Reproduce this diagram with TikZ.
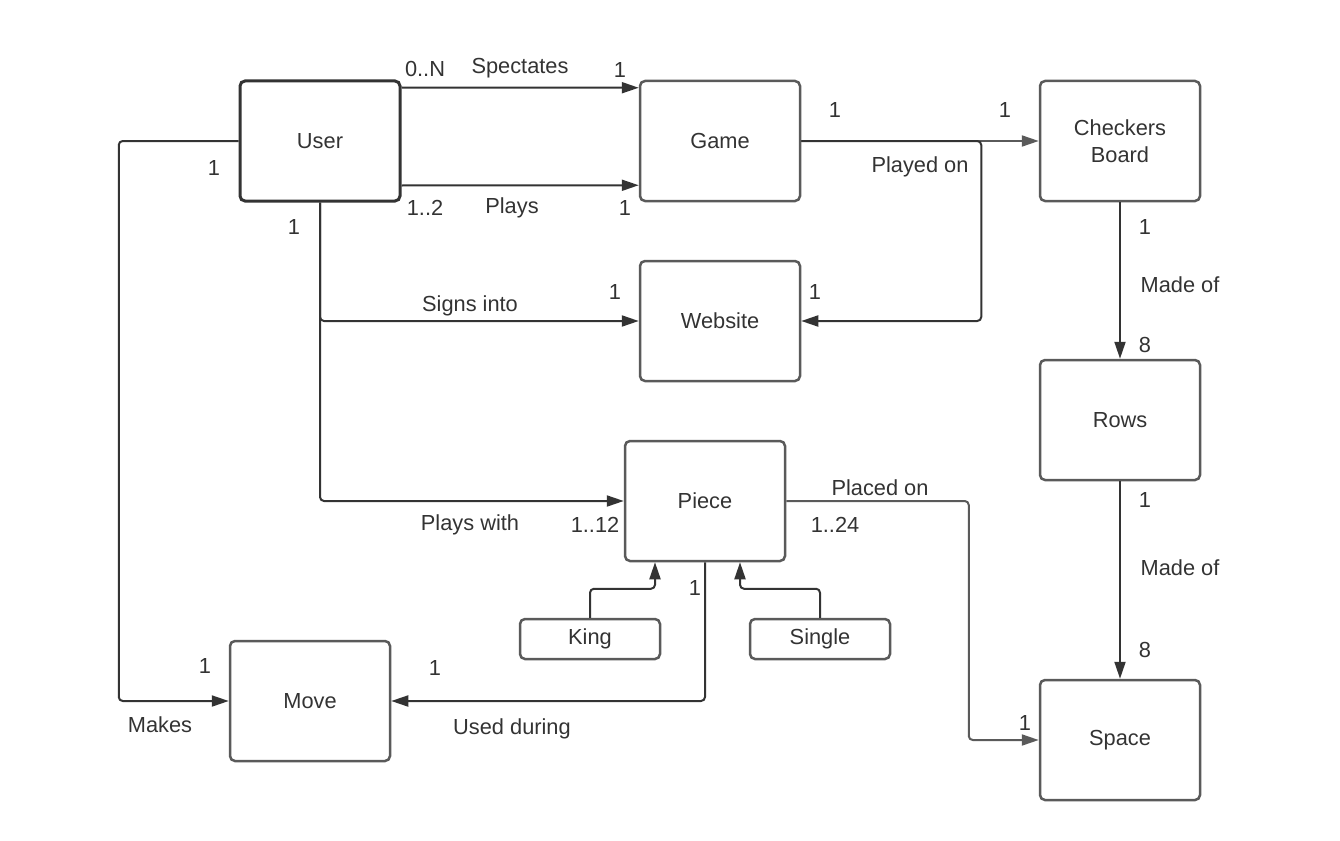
\documentclass[tikz,border=0pt]{standalone}
\usepackage{fontspec}
\setmainfont{Liberation Sans}
\usetikzlibrary{arrows.meta}
\definecolor{ink}{HTML}{333333}
\definecolor{edge}{HTML}{5A5A5A}
\tikzset{
  entity/.style={draw=edge, line width=2.5pt, rounded corners=5pt, minimum width=160pt, minimum height=120pt, text=ink},
  subtype/.style={entity, minimum width=140pt, minimum height=40pt},
  conn/.style={draw=ink, line width=2pt, rounded corners=4pt, -{Triangle[length=17pt,width=11pt]}},
  lbl/.style={text=ink, inner sep=0pt}
}
\begin{document}
\begin{tikzpicture}[x=1pt, y=-1pt, font=\fontsize{21.8}{27}\selectfont]
  \useasboundingbox (0,0) rectangle (1340,840);
  \node[entity, draw=ink, line width=3pt] (user) at (320,141) {User};
  \node[entity] (game) at (720,141) {Game};
  \node[entity, align=center] (board) at (1120,141) {Checkers\\Board};
  \node[entity] (website) at (720,321) {Website};
  \node[entity] (rows) at (1120,420) {Rows};
  \node[entity] (piece) at (705,501) {Piece};
  \node[subtype] (king) at (590,639) {King};
  \node[subtype] (single) at (820,639) {Single};
  \node[entity] (move) at (310,701) {Move};
  \node[entity] (space) at (1120,740) {Space};

  \draw[conn] ([yshift=-8pt]user.north east) -- ([yshift=-8pt]game.north west);
  \draw[conn] ([yshift=17pt]user.south east) -- ([yshift=17pt]game.south west);
  \draw[conn, draw=edge] (game.east) -- (board.west);
  \draw[conn] (game.east) -| ([xshift=180pt]website.east) -- (website.east);
  \draw[conn] (user.south) |- (website.west);
  \draw[conn] (user.south) |- (piece.west);
  \draw[conn] (user.west) -| ([xshift=-110pt]move.west) -- (move.west);
  \draw[conn] (piece.south) |- (move.east);
  \draw[conn] (king.north) -- ++(0,-29) -| ([xshift=-50pt]piece.south);
  \draw[conn] (single.north) -- ++(0,-29) -| ([xshift=35pt]piece.south);
  \draw[conn, draw=edge] (piece.east) -| ([xshift=-70pt]space.west) -- (space.west);
  \draw[conn] (board) -- (rows);
  \draw[conn] (rows) -- (space);

  \node[lbl] (l1) at (425,69) {0..N};
  \node[lbl] (l2) at (520,68) {Spectates};
  \node[lbl] (l3) at (620,70) {1};
  \node[lbl] (l4) at (425,208) {1..2};
  \node[lbl] (l5) at (512,208) {Plays};
  \node[lbl] (l6) at (625,208) {1};
  \node[lbl] (l7) at (835,110) {1};
  \node[lbl] (l8) at (1005,110) {1};
  \node[lbl] (l9) at (920,167) {Played on};
  \node[lbl] (l10) at (815,292) {1};
  \node[lbl] (l11) at (470,306) {Signs into};
  \node[lbl] (l12) at (615,292) {1};
  \node[lbl] (l13) at (294,227) {1};
  \node[lbl] (l14) at (470,525) {Plays with};
  \node[lbl] (l15) at (595,525) {1..12};
  \node[lbl] (l16) at (214,168) {1};
  \node[lbl] (l17) at (160,725) {Makes};
  \node[lbl] (l18) at (205,666) {1};
  \node[lbl] (l19) at (695,588) {1};
  \node[lbl] (l20) at (435,668) {1};
  \node[lbl] (l21) at (512,729) {Used during};
  \node[lbl] (l22) at (880,488) {Placed on};
  \node[lbl] (l23) at (835,525) {1..24};
  \node[lbl] (l24) at (1025,723) {1};
  \node[lbl] (l25) at (1145,227) {1};
  \node[lbl] (l26) at (1180,285) {Made of};
  \node[lbl] (l27) at (1145,345) {8};
  \node[lbl] (l28) at (1145,500) {1};
  \node[lbl] (l29) at (1180,568) {Made of};
  \node[lbl] (l30) at (1145,650) {8};
\end{tikzpicture}
\end{document}
